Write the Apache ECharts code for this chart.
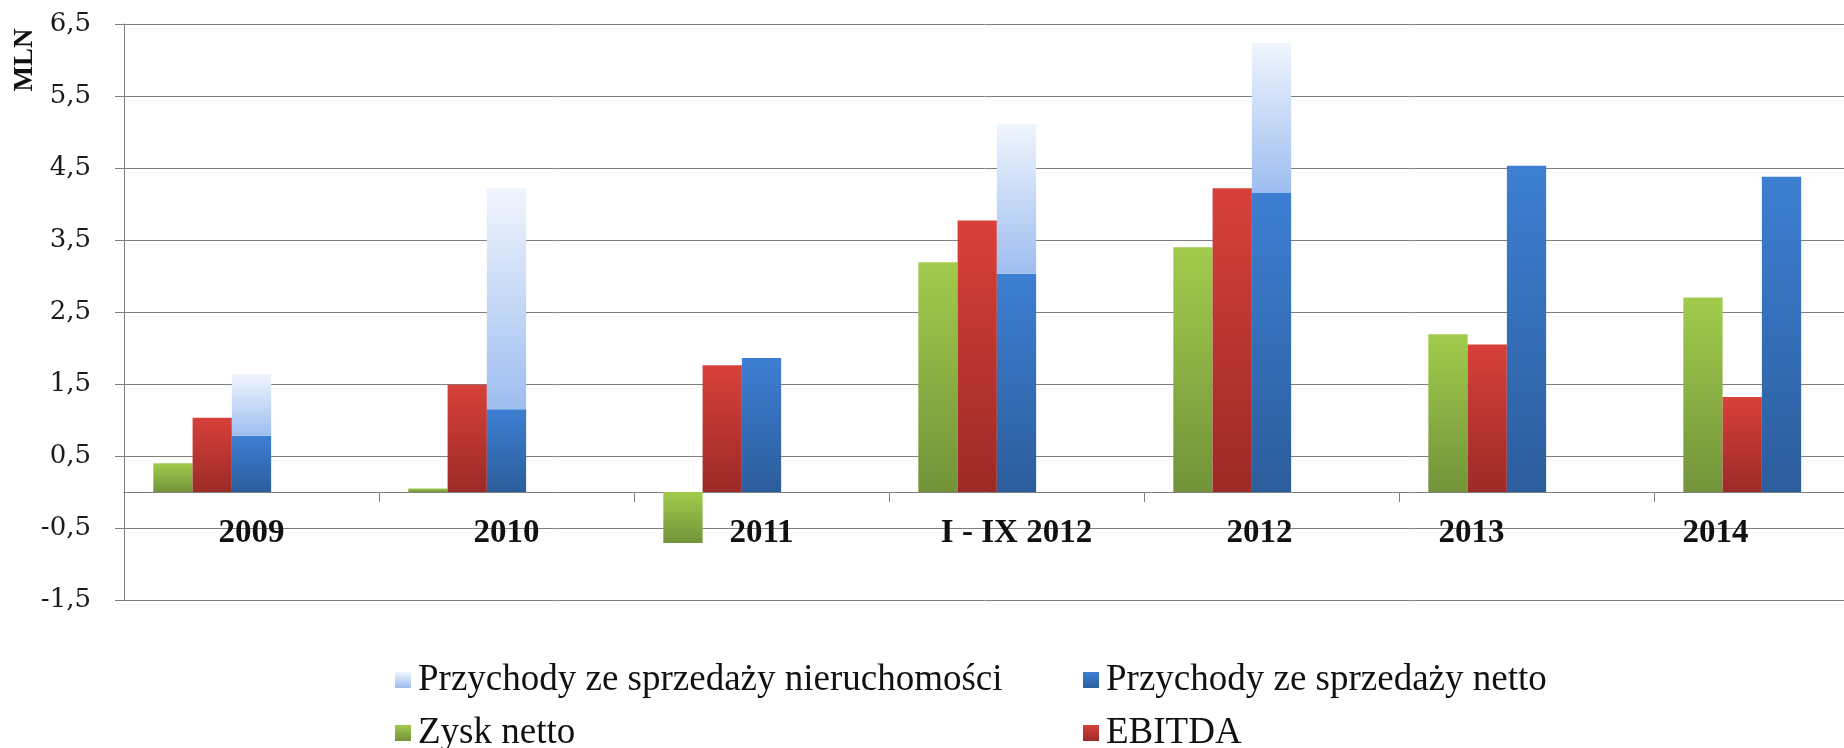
<!DOCTYPE html>
<html><head><meta charset="utf-8">
<script src="https://cdn.jsdelivr.net/npm/echarts@6/dist/echarts.min.js"></script>
<style>html,body{margin:0;padding:0;background:#fff}#c{width:1844px;height:748px}</style>
</head><body><div id="c"></div>
<script>
const categories = ['2009', '2010', '2011', 'I - IX 2012', '2012', '2013', '2014'];
const zyskNetto = [0.40, 0.05, -0.71, 3.19, 3.40, 2.19, 2.70];
const ebitda = [1.03, 1.49, 1.76, 3.77, 4.22, 2.05, 1.32];
const przychodyNetto = [0.78, 1.15, 1.86, 3.03, 4.16, 4.53, 4.38];
const przychodyNieruchomosci = [0.86, 3.07, null, 2.08, 2.08, null, null];
const yTicks = [-1.5, -0.5, 0.5, 1.5, 2.5, 3.5, 4.5, 5.5, 6.5];
const yAxisName = 'MLN';
const names = {
  nier: 'Przychody ze sprzedaży nieruchomości',
  netto: 'Przychody ze sprzedaży netto',
  zysk: 'Zysk netto',
  ebitda: 'EBITDA'
};

function grad(top, bottom) {
  return { type: 'linear', x: 0, y: 0, x2: 0, y2: 1,
    colorStops: [{ offset: 0, color: top }, { offset: 1, color: bottom }] };
}
const cGreen = grad('#a2cb4c', '#72933a');
const cRed = grad('#d8403a', '#9c2a27');
const cBlue = grad('#3d7fd3', '#2c5d9c');
const cLight = grad('#f0f5fd', '#9dbdf0');
const lineGray = '#7f7f7f';

const chart = echarts.init(document.getElementById('c'), null, { renderer: 'canvas' });
const barCommon = { type: 'bar', barGap: 0, barCategoryGap: '23%' };
const legendText = { fontFamily: 'Liberation Serif', fontSize: 37, color: '#111', lineHeight: 40, padding: [0, 0, 0, 2] };
const catFont = { fontFamily: 'Liberation Serif', fontWeight: 'bold', fontSize: 33, color: '#111' };

chart.setOption({
  animation: false,
  backgroundColor: '#ffffff',
  grid: { left: 124, top: 24, height: 576, width: 1785, containLabel: false, outerBoundsMode: 'none' },
  graphic: [{
    type: 'text', x: 25, y: 60, rotation: Math.PI / 2,
    style: { text: yAxisName, fontFamily: 'Liberation Serif', fontWeight: 'bold', fontSize: 27,
      fill: '#111', align: 'center', verticalAlign: 'middle', textAlign: 'center', textVerticalAlign: 'middle' }
  }],
  legend: [{
    data: [names.nier, names.zysk], orient: 'vertical', left: 390, top: 655, height: 120,
    icon: 'rect', itemWidth: 16, itemHeight: 16, itemGap: 13, textStyle: legendText
  }, {
    data: [names.netto, names.ebitda], orient: 'vertical', left: 1078, top: 655, height: 120,
    icon: 'rect', itemWidth: 16, itemHeight: 16, itemGap: 13, textStyle: legendText
  }],
  xAxis: {
    type: 'category', data: categories,
    axisLine: { onZero: true, lineStyle: { color: lineGray, width: 1 } },
    axisTick: { show: true, length: 10, lineStyle: { color: lineGray } },
    axisLabel: Object.assign({
      margin: -83,
      formatter: function (v) {
        const k = { '2012': 'a', '2013': 'b', '2014': 'c' }[v];
        return k ? '{' + k + '|' + v + '}' : v;
      },
      rich: {
        a: Object.assign({}, catFont, { padding: [0, 24, 0, 0] }),
        b: Object.assign({}, catFont, { padding: [0, 110, 0, 0] }),
        c: Object.assign({}, catFont, { padding: [0, 132, 0, 0] })
      }
    }, catFont),
    splitLine: { show: false }
  },
  yAxis: {
    type: 'value', min: -1.5, max: 6.5,
    axisLine: { show: true, lineStyle: { color: lineGray, width: 1 } },
    axisTick: { show: true, length: 9, lineStyle: { color: lineGray }, customValues: yTicks },
    axisLabel: {
      customValues: yTicks, margin: 33, fontFamily: 'DejaVu Serif', fontSize: 26, color: '#1a1a1a',
      formatter: function (v) { return v.toFixed(1).replace('.', ','); }
    },
    splitLine: { show: true, lineStyle: { color: lineGray, width: 1 } }
  },
  series: [
    Object.assign({}, barCommon, { name: names.zysk, data: zyskNetto, itemStyle: { color: cGreen } }),
    Object.assign({}, barCommon, { name: names.ebitda, data: ebitda, itemStyle: { color: cRed } }),
    Object.assign({}, barCommon, { name: names.netto, data: przychodyNetto, stack: 'przychody', itemStyle: { color: cBlue } }),
    Object.assign({}, barCommon, { name: names.nier, data: przychodyNieruchomosci, stack: 'przychody', itemStyle: { color: cLight } }),
    Object.assign({}, barCommon, { name: 'slot-a', data: [] }),
    Object.assign({}, barCommon, { name: 'slot-b', data: [] })
  ]
});
</script></body></html>
